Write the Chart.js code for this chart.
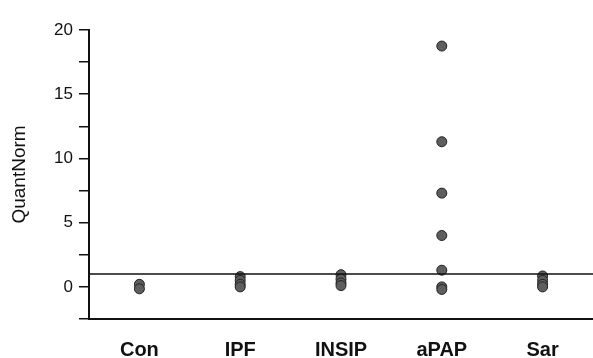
<!DOCTYPE html>
<html>
<head>
<meta charset="utf-8">
<script src="https://cdn.jsdelivr.net/npm/chart.js@4/dist/chart.umd.min.js"></script>
<style>
  html, body { margin: 0; padding: 0; background: #fff; }
  #wrap { width: 593px; height: 358px; }
</style>
</head>
<body>
<div id="wrap"><canvas id="myChart"></canvas></div>
<script>
// groups on the x axis
const categories = ['Con', 'IPF', 'INSIP', 'aPAP', 'Sar'];

// QuantNorm values per group
const conVals = [0.2, -0.15];
const ipfVals = [0.8, 0.5, 0.2, 0.0];
const insipVals = [0.95, 0.6, 0.3, 0.1];
const apapVals = [18.75, 11.3, 7.3, 4.0, 1.3, 0.0, -0.2];
const sarVals = [0.85, 0.5, 0.2, 0.0];

// y axis range, labelled ticks and the cut-off line
const yMin = -2.5;
const yMax = 20;
const yStep = 2.5;
const yLabelled = [0, 5, 10, 15, 20];
const cutOff = 1;

const groups = [conVals, ipfVals, insipVals, apapVals, sarVals];
let points = [];
groups.forEach(function(vals, i) {
	vals.forEach(function(v) {
		points.push({ x: categories[i], y: v });
	});
});

// horizontal cut-off line across the plot
const cutOffLine = {
	id: 'cutOffLine',
	afterDatasetsDraw: function(chart) {
		let ctx = chart.ctx;
		let area = chart.chartArea;
		let y = chart.scales.y.getPixelForValue(cutOff);
		ctx.save();
		ctx.strokeStyle = '#111';
		ctx.lineWidth = 1.5;
		ctx.beginPath();
		ctx.moveTo(area.left, y);
		ctx.lineTo(area.right, y);
		ctx.stroke();
		ctx.restore();
	}
};

let ctx = document.getElementById('myChart').getContext('2d');

let chart = new Chart(ctx, {
	type: 'scatter',
	data: {
		labels: categories,
		datasets: [{
			label: 'QuantNorm',
			data: points,
			pointRadius: 5,
			pointHoverRadius: 5,
			backgroundColor: '#5e5e5e',
			borderColor: '#222',
			borderWidth: 1,
			clip: false
		}]
	},
	options: {
		responsive: true,
		maintainAspectRatio: false,
		animation: false,
		layout: { autoPadding: false, padding: { top: 30, right: 0, left: 0, bottom: 0 } },
		plugins: {
			legend: { display: false },
			tooltip: { enabled: false }
		},
		scales: {
			x: {
				type: 'category',
				labels: categories,
				offset: true,
				grid: { display: false, drawTicks: false },
				border: { display: true, color: '#111', width: 2 },
				ticks: {
					color: '#111',
					padding: 19,
					font: { family: 'Liberation Sans', size: 20, weight: 'bold' }
				},
				afterFit: function(axis) { axis.height = 39; }
			},
			y: {
				min: yMin,
				max: yMax,
				grid: {
					drawOnChartArea: false,
					drawTicks: true,
					tickLength: 10,
					color: '#111',
					lineWidth: 1.5
				},
				border: { display: true, color: '#111', width: 2 },
				ticks: {
					stepSize: yStep,
					color: '#111',
					padding: 6,
					font: { family: 'Liberation Sans', size: 17 },
					callback: function(v) {
						return yLabelled.includes(v) ? String(v) : '';
					}
				},
				title: {
					display: true,
					text: 'QuantNorm',
					color: '#111',
					padding: { top: 8, bottom: 0 },
					font: { family: 'Liberation Sans', size: 19 }
				},
				afterFit: function(axis) { axis.width = 89; }
			}
		}
	},
	plugins: [cutOffLine]
});
</script>
</body>
</html>
